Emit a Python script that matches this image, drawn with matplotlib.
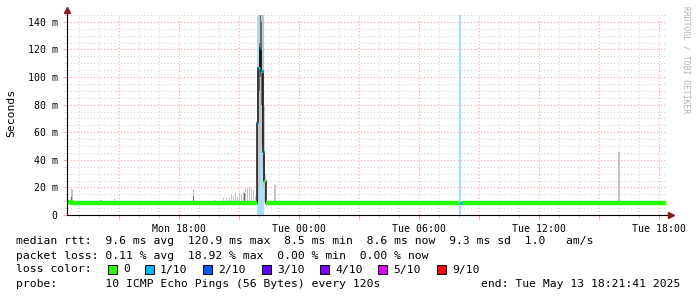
import matplotlib
matplotlib.use("Agg")
import matplotlib.pyplot as plt
import matplotlib.dates as mdates
from matplotlib.ticker import MultipleLocator, FuncFormatter
from datetime import datetime, timedelta
import numpy as np

# ---------------- data (hours after Mon 2025-05-12 12:24) ----------------
start = datetime(2025, 5, 12, 12, 24)
span_hours = 30

# median rtt (ms) as step segments: start time, value, loss level (0 = none, 1 = 1/10)
med_t    = [0.00, 0.20, 0.35, 1.60, 1.70, 6.25, 6.35, 8.95, 9.50, 9.58, 9.65, 9.72, 9.80, 9.88,
            9.95, 13.67, 14.02, 18.00, 18.30, 19.30, 19.63, 19.74, 19.80, 20.20, 20.35, 23.20,
            23.50, 23.90, 24.30, 25.30, 25.60, 25.80, 26.00, 26.30, 26.50, 27.30, 27.50, 27.80,
            28.30, 29.30, 29.95]
med_v    = [9.6, 8.9, 8.7, 9.0, 8.7, 9.0, 8.7, 8.4, 67.0, 106.5, 121.0, 104.5, 46.0, 25.0,
            8.4, 8.9, 8.4, 8.9, 8.4, 8.9, 8.9, 8.9, 8.4, 8.9, 8.4, 8.9,
            8.4, 8.9, 8.4, 8.9, 8.4, 8.9, 8.4, 8.9, 8.4, 8.9, 8.4, 8.9,
            8.4, 8.9, 8.9]
med_loss = [0, 0, 0, 0, 0, 0, 0, 0, 1, 1, 1, 1, 1, 0,
            0, 0, 0, 0, 0, 0, 1, 0, 0, 0, 0, 0,
            0, 0, 0, 0, 0, 0, 0, 0, 0, 0, 0, 0,
            0, 0, 0]

# packet-loss periods (hours)
loss_start = [9.54, 19.63]
loss_end   = [9.89, 19.74]

# smoke (spread of the 10 pings), light gray
smoke_t  = [0.22, 1.67, 2.35, 4.40, 6.30, 6.90, 7.40, 7.80, 7.95,
            8.10, 8.20, 8.30, 8.40, 8.50, 8.60, 8.70, 8.80, 8.90, 9.00, 9.10, 9.20, 9.30, 9.40,
            9.52, 9.57, 9.62, 9.67, 9.72, 9.77, 9.82, 9.87,
            10.37, 27.57]
smoke_lo = [9, 9, 9, 9, 9, 9, 9, 9, 9,
            9, 9, 9, 9, 9, 9, 9, 9, 9, 9, 9, 9, 9, 9,
            10, 20, 45, 60, 50, 35, 20, 10,
            9, 9]
smoke_hi = [18.5, 11, 12.3, 10.5, 19, 10.5, 11, 12, 12,
            13, 15, 14, 16, 13, 16, 15, 17, 19, 19.5, 20, 19, 18, 14,
            70, 110, 145, 145, 145, 145, 80, 30,
            22, 46]
# darker core of the smoke
dark_t  = [0.22, 6.30, 8.88, 9.62, 9.67, 9.72, 9.77]
dark_lo = [9, 9, 9, 90, 100, 80, 50]
dark_hi = [13, 14, 16, 125, 145, 140, 105]

# legend values
legend_line1 = "median rtt:  9.6 ms avg  120.9 ms max  8.5 ms min  8.6 ms now  9.3 ms sd  1.0   am/s"
legend_line2 = "packet loss: 0.11 % avg  18.92 % max  0.00 % min  0.00 % now"
legend_probe = "probe:       10 ICMP Echo Pings (56 Bytes) every 120s"
legend_end = "end: Tue May 13 18:21:41 2025"
loss_labels = ["0", "1/10", "2/10", "3/10", "4/10", "5/10", "9/10"]
loss_colors = ["#26ff00", "#00b8ff", "#0059ff", "#5e00ff", "#7e00ff", "#dd00ff", "#ff0000"]

# ---------------- drawing ----------------
W, H = 697, 297
fig = plt.figure(figsize=(W / 100, H / 100), dpi=100)
fig.patch.set_facecolor("white")
mono = "DejaVu Sans Mono"

def px(x, y):
    return x / W, 1 - y / H

ax = fig.add_axes([66.7 / W, (H - 215) / H, 600 / W, 200 / H])
ax.set_facecolor("white")

def hrs(h):
    return start + timedelta(hours=h)

ax.set_xlim(hrs(0), hrs(span_hours))
ax.set_ylim(0, 145)

# loss bands
for s, e in zip(loss_start, loss_end):
    ax.axvspan(hrs(s), hrs(e), color="#a6e2f7", lw=0, zorder=1)

bw = 0.09 / 24  # about two pixel columns, in days
ax.bar([hrs(t) for t in smoke_t], np.array(smoke_hi) - np.array(smoke_lo), bottom=smoke_lo,
       width=bw, color="#c4c4c4", lw=0, zorder=2, align="edge")
ax.bar([hrs(t) for t in dark_t], np.array(dark_hi) - np.array(dark_lo), bottom=dark_lo,
       width=bw * 0.6, color="#6a6a6a", lw=0, zorder=2.2, align="edge")

# median line
tt = [hrs(t) for t in med_t] + [hrs(span_hours - 0.05)]
vv = np.array(med_v + [med_v[-1]], dtype=float)
loss = np.array(med_loss + [med_loss[-1]])
spike = vv > 20
# black connector through the spike
idx = np.where(spike)[0]
i0, i1 = idx[0] - 1, idx[-1] + 1
ax.plot(tt[i0:i1 + 1], vv[i0:i1 + 1], drawstyle="steps-post", color="#111111", lw=1.1, zorder=3)
green = np.where((loss == 0) & ~spike, vv, np.nan)
ax.plot(tt, green, drawstyle="steps-post", color=loss_colors[0], lw=3.2, zorder=4,
        solid_capstyle="butt")
for i, l in enumerate(med_loss):
    if spike[i] or l > 0:
        ax.hlines(med_v[i], tt[i], tt[i + 1], color=loss_colors[l],
                  lw=2.2 if l > 0 else 1.4, zorder=5)

# grid & ticks
ax.xaxis.set_major_locator(mdates.HourLocator(byhour=range(0, 24, 3)))
ax.xaxis.set_minor_locator(mdates.HourLocator())
ax.xaxis.set_major_formatter(FuncFormatter(
    lambda v, p: mdates.num2date(v).strftime("%a %H:%M") if mdates.num2date(v).hour % 6 == 0 else ""))
ax.yaxis.set_major_locator(MultipleLocator(20))
ax.yaxis.set_minor_locator(MultipleLocator(5))
ax.yaxis.set_major_formatter(FuncFormatter(lambda v, p: "0" if v == 0 else f"{v:.0f} m"))
ax.set_axisbelow(True)
ax.grid(which="major", color="#ffa0a0", ls=(0, (1, 2)), lw=0.8)
ax.grid(which="minor", color="#d4d4d4", ls=(0, (1, 2)), lw=0.8)
ax.tick_params(which="major", length=3, width=0.7, color="#ffa0a0", labelsize=7.1, pad=3.5)
ax.tick_params(which="minor", length=2, width=0.7, color="#d4d4d4")
for lab in ax.get_xticklabels() + ax.get_yticklabels():
    lab.set_fontfamily(mono)
for s in ["top", "right"]:
    ax.spines[s].set_visible(False)
for s in ["left", "bottom"]:
    ax.spines[s].set_color("black")
    ax.spines[s].set_linewidth(0.8)
    ax.spines[s].set_zorder(6)

# axis extensions and arrows
ax.plot([0, 0], [1.0, 1.02], transform=ax.transAxes, color="black", lw=0.8, clip_on=False)
ax.plot([1.0, 1.004], [0, 0], transform=ax.transAxes, color="black", lw=0.8, clip_on=False)
ax.plot([0], [1.025], transform=ax.transAxes, marker="^", ms=4, color="#8b1a1a", clip_on=False)
ax.plot([1.007], [0], transform=ax.transAxes, marker=">", ms=4, color="#8b1a1a", clip_on=False)

fig.text(*px(11, 113), "Seconds", rotation=90, ha="center", va="center",
         fontsize=8.2, family=mono)
fig.text(*px(686, 60), "RRDTOOL / TOBI OETIKER", rotation=270, ha="center", va="center",
         fontsize=5.8, family=mono, color="#b4b4b4")

fs = 8.2
fig.text(*px(16, 241), legend_line1, ha="left", va="center", fontsize=fs, family=mono)
fig.text(*px(16, 256), legend_line2, ha="left", va="center", fontsize=fs, family=mono)
fig.text(*px(16, 269.5), "loss color:", ha="left", va="center", fontsize=fs, family=mono)
box_x = [108, 145, 203, 262, 320, 378, 437]
for bx, lab, col in zip(box_x, loss_labels, loss_colors):
    fig.patches.append(plt.Rectangle(px(bx, 274), 8.5 / W, 9 / H, transform=fig.transFigure,
                                     facecolor=col, edgecolor="black", lw=0.7))
    fig.text(*px(bx + 15, 269.5), lab, ha="left", va="center", fontsize=fs, family=mono)
fig.text(*px(16, 284), legend_probe, ha="left", va="center", fontsize=fs, family=mono)
fig.text(*px(680, 284), legend_end, ha="right", va="center", fontsize=fs, family=mono)

fig.savefig("out.png", dpi=100, facecolor="white")
